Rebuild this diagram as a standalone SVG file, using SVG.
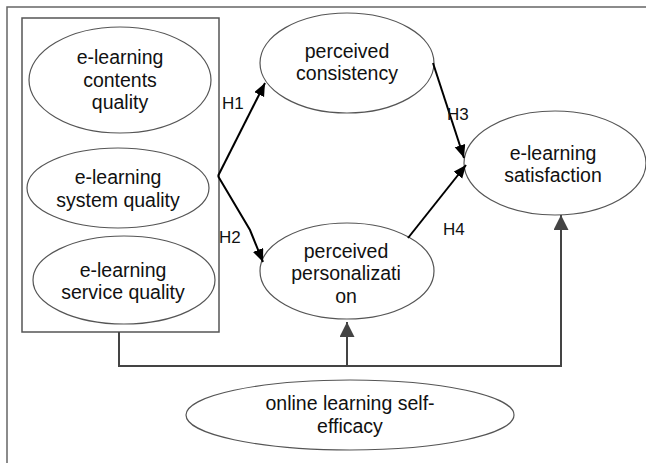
<svg xmlns="http://www.w3.org/2000/svg" width="646" height="463" viewBox="0 0 646 463">
<style>
.node ellipse{fill:#fff;stroke:#555;stroke-width:1.2}
text{font-family:"Liberation Sans",Arial,sans-serif;font-size:19.5px;fill:#111;text-anchor:middle}
.lbl{font-size:17px;text-anchor:start}
.h{fill:none;stroke:#000;stroke-width:2}
.m{fill:none;stroke:#444;stroke-width:2}
</style>
<defs>
<marker id="ab" markerUnits="userSpaceOnUse" markerWidth="14" markerHeight="12" refX="13" refY="5.5" orient="auto"><path d="M0,0 L13,5.5 L0,11 z" fill="#000"/></marker>
<marker id="ag" markerUnits="userSpaceOnUse" markerWidth="16" markerHeight="16" refX="15" refY="7.5" orient="auto"><path d="M0,0 L15,7.5 L0,15 z" fill="#444"/></marker>
</defs>
<rect width="646" height="463" fill="#fff"/>
<path d="M7,463 V7 H646" fill="none" stroke="#666" stroke-width="1.5"/>
<rect x="22" y="18" width="197" height="314" fill="none" stroke="#555" stroke-width="1.5"/>
<g id="contents" class="node"><ellipse cx="120" cy="80" rx="91" ry="53"/><text x="120" y="64">e-learning</text><text x="120" y="86.5">contents</text><text x="120" y="109">quality</text></g>
<g id="system" class="node"><ellipse cx="118" cy="188" rx="91" ry="40"/><text x="118" y="184">e-learning</text><text x="118" y="207">system quality</text></g>
<g id="service" class="node"><ellipse cx="124" cy="280" rx="91" ry="44"/><text x="123" y="277">e-learning</text><text x="123" y="299">service quality</text></g>
<g id="consistency" class="node"><ellipse cx="347" cy="63" rx="87" ry="50"/><text x="347" y="58">perceived</text><text x="347" y="80">consistency</text></g>
<g id="personalization" class="node"><ellipse cx="347" cy="271" rx="87" ry="48"/><text x="346" y="258">perceived</text><text x="346" y="280">personalizati</text><text x="346" y="303">on</text></g>
<g id="satisfaction" class="node"><ellipse cx="555" cy="163" rx="91" ry="52"/><text x="553" y="160">e-learning</text><text x="553" y="182">satisfaction</text></g>
<g id="selfefficacy" class="node"><ellipse cx="350" cy="415" rx="164" ry="35"/><text x="350" y="410">online learning self-</text><text x="350" y="433">efficacy</text></g>
<g id="connectors">
<path class="h" d="M218,176 L265,83" marker-end="url(#ab)"/>
<path class="h" d="M218,176 L250,230 L263,262" marker-end="url(#ab)"/>
<path class="h" d="M433,63 L464,158" marker-end="url(#ab)"/>
<path class="h" d="M408,238 L466,165" marker-end="url(#ab)"/>
<path class="m" d="M119,332 V366 H561 V215" marker-end="url(#ag)"/>
<path class="m" d="M347,366 V322" marker-end="url(#ag)"/>
<text class="lbl" x="222" y="109">H1</text>
<text class="lbl" x="219" y="243">H2</text>
<text class="lbl" x="447" y="120">H3</text>
<text class="lbl" x="443" y="235">H4</text>
</g>
</svg>
